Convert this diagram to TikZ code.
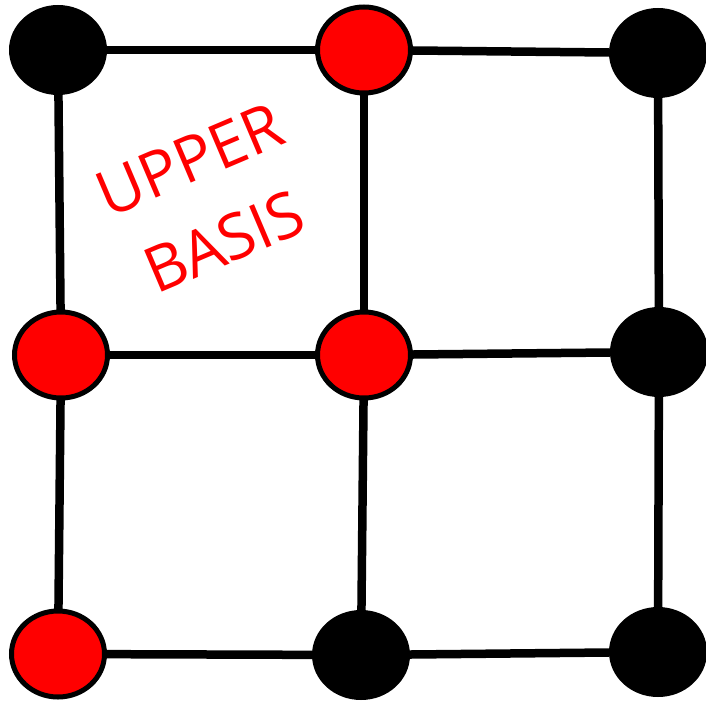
\documentclass[tikz,border=0pt]{standalone}
\usepackage{fontspec}
\setmainfont{Open Sans}
\usetikzlibrary{shapes.geometric}
\definecolor{nodered}{RGB}{255,0,0}
\begin{document}
\begin{tikzpicture}[x=1pt,y=-1pt,
  blk/.style={ellipse, fill=black, minimum width=98pt, minimum height=90pt, inner sep=0pt, outer sep=0pt},
  rd/.style={ellipse, fill=nodered, draw=black, line width=5pt, minimum width=93pt, minimum height=86pt, inner sep=0pt, outer sep=0pt},
  edge/.style={line width=8.5pt}]
\useasboundingbox (0,0) rectangle (706,701);
\node[blk] (a1) at (58,50) {};
\node[rd]  (a2) at (364,50) {};
\node[blk] (a3) at (658,53) {};
\node[rd]  (b1) at (61,355) {};
\node[rd]  (b2) at (364,355) {};
\node[blk] (b3) at (659,352) {};
\node[rd]  (c1) at (58,654) {};
\node[blk] (c2) at (361,655) {};
\node[blk] (c3) at (658,652) {};
\draw[edge] (a1) -- (a2);
\draw[edge] (a2) -- (a3);
\draw[edge] (b1) -- (b2);
\draw[edge] (b2) -- (b3);
\draw[edge] (c1) -- (c2);
\draw[edge] (c2) -- (c3);
\draw[edge] (a1) -- (b1);
\draw[edge] (b1) -- (c1);
\draw[edge] (a2) -- (b2);
\draw[edge] (b2) -- (c2);
\draw[edge] (a3) -- (b3);
\draw[edge] (b3) -- (c3);
\node[text=nodered, rotate=23, align=center, inner sep=0pt, font=\fontsize{63}{89}\selectfont] (lbl) at (207,201) {UPPER\\BASIS};
\end{tikzpicture}
\end{document}
